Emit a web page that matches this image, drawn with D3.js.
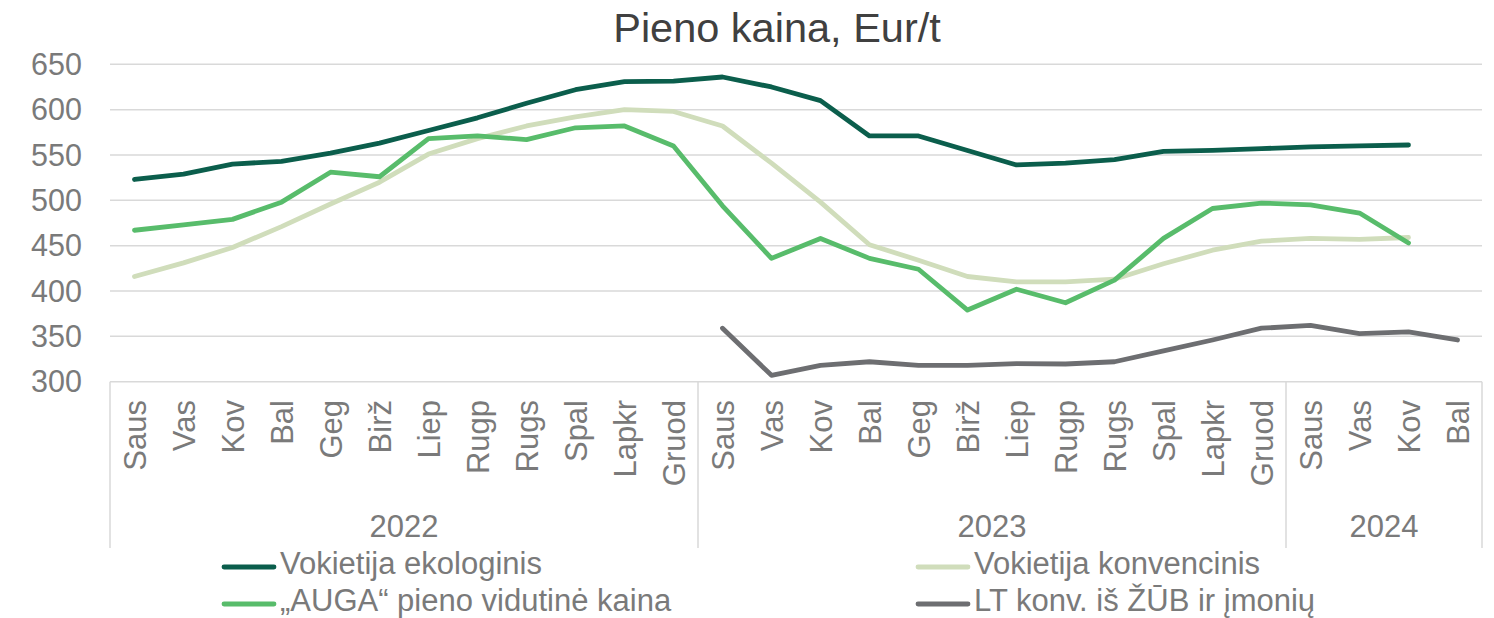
<!DOCTYPE html>
<html><head><meta charset="utf-8">
<script src="https://cdn.jsdelivr.net/npm/d3@7"></script>
<style>body{margin:0;background:#fff;} text{font-family:"Liberation Sans",Arial,sans-serif;}</style>
</head><body><svg id="c" width="1494" height="618"></svg>
<script>
const months = ["Saus","Vas","Kov","Bal","Geg","Birž","Liep","Rugp","Rugs","Spal","Lapkr","Gruod",
                "Saus","Vas","Kov","Bal","Geg","Birž","Liep","Rugp","Rugs","Spal","Lapkr","Gruod",
                "Saus","Vas","Kov","Bal"];
const years = [{label:"2022", start:0, count:12},{label:"2023", start:12, count:12},{label:"2024", start:24, count:4}];
const yTicks = [300,350,400,450,500,550,600,650];

const vokEko = [523,529,540,543,552,563,577,591,607,622,631,631.5,
                636,625,610,571,571,555,539,541,545,554,555,557,
                559,560,561,null];
const vokKonv = [416,431,448,471,496,520,551,568,582,592,600,598,
                 582,541,498,451,434,416,410,410,413,430,445,455,
                 458,457,459,null];
const auga = [467,473,479,498,531,526,568,571,567,580,582,560,
              494,436,458,436,424,379,402,387,412,458,491,497,
              495,486,453,null];
const ltKonv = [null,null,null,null,null,null,null,null,null,null,null,null,
                359,307,318,322,318,318,320,319.5,322,334,346,359,
                362,353,355,346];

const series = [
  {name:"Vokietija ekologinis", values:vokEko, color:"#0b5e4c"},
  {name:"Vokietija konvencinis", values:vokKonv, color:"#d0ddbb"},
  {name:"\u201EAUGA\u201C pieno vidutinė kaina", values:auga, color:"#58bc6b"},
  {name:"LT konv. iš ŽŪB ir įmonių", values:ltKonv, color:"#6d6e71"}
];
const drawOrder = [1,3,2,0];

const svg = d3.select("#c");
const L = 110, R = 1482, T = 64.3, B = 381.7;
const x = d3.scaleBand().domain(d3.range(months.length)).range([L,R]);
const y = d3.scaleLinear().domain([300,650]).range([B,T]);
const txt = "#7a7a7a", grid = "#d9d9d9";
const FS = 31;

svg.append("text").attr("x",777).attr("y",42).attr("text-anchor","middle")
  .attr("font-size",41.5).attr("fill","#404040").text("Pieno kaina, Eur/t");

// gridlines
svg.append("g").selectAll("line").data(yTicks).join("line")
  .attr("x1",L).attr("x2",R).attr("y1",d=>y(d)).attr("y2",d=>y(d))
  .attr("stroke",grid).attr("stroke-width",1.5);
// y labels
svg.append("g").selectAll("text").data(yTicks).join("text")
  .attr("x",82).attr("y",d=>y(d)+10.7).attr("text-anchor","end")
  .attr("font-size",30.5).attr("fill",txt).text(d=>d);

// year separators
const seps = [0,12,24,28];
svg.append("g").selectAll("line").data(seps).join("line")
  .attr("x1",d=>d===28?R:x(d)).attr("x2",d=>d===28?R:x(d))
  .attr("y1",B).attr("y2",548).attr("stroke",grid).attr("stroke-width",1.5);

// month labels
svg.append("g").selectAll("text").data(months).join("text")
  .attr("transform",(d,i)=>`translate(${x(i)+x.bandwidth()/2+11},400) rotate(-90)`)
  .attr("text-anchor","end").attr("font-size",FS).attr("fill",txt).text(d=>d);

// year labels
svg.append("g").selectAll("text").data(years).join("text")
  .attr("x",d=>x(d.start)+d.count*x.bandwidth()/2).attr("y",537)
  .attr("text-anchor","middle").attr("font-size",FS).attr("fill",txt).text(d=>d.label);

// lines
const line = d3.line().defined(d=>d!=null).x((d,i)=>x(i)+x.bandwidth()/2).y(d=>y(d));
drawOrder.forEach(k=>{
  const s = series[k];
  svg.append("path").attr("d",line(s.values)).attr("fill","none")
    .attr("stroke",s.color).attr("stroke-width",4.8)
    .attr("stroke-linejoin","round").attr("stroke-linecap","round");
});

// legend
const leg = [{s:0,x:222,y:567},{s:1,x:916,y:567},{s:2,x:222,y:604},{s:3,x:916,y:604}];
const lg = svg.append("g").selectAll("g").data(leg).join("g")
  .attr("transform",d=>`translate(${d.x},${d.y})`);
lg.append("line").attr("x1",2).attr("x2",52).attr("stroke",d=>series[d.s].color)
  .attr("stroke-width",4.8).attr("stroke-linecap","round");
lg.append("text").attr("x",58).attr("y",6.5).attr("font-size",FS).attr("fill",txt)
  .text(d=>series[d.s].name);
</script></body></html>
